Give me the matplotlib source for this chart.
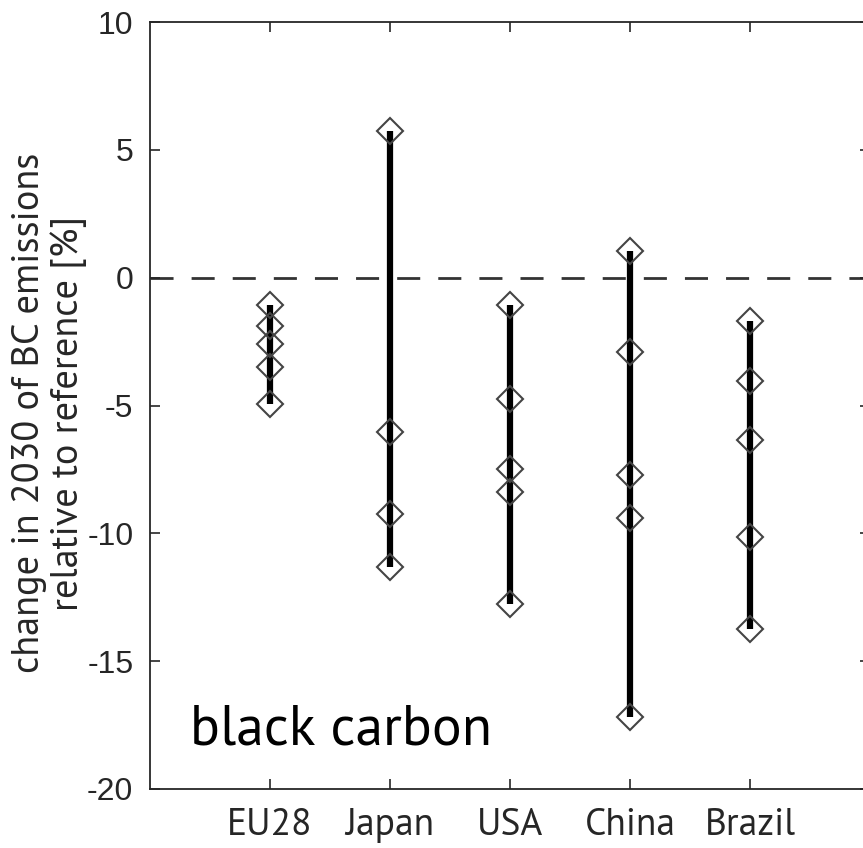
import matplotlib
matplotlib.use("Agg")
import matplotlib.pyplot as plt
import numpy as np

plt.rcParams['axes.unicode_minus'] = False

# regions and scenario results (% change in 2030 BC emissions vs reference)
regions = ['EU28', 'Japan', 'USA', 'China', 'Brazil']
eu28 = [-1.05, -1.9, -2.6, -3.5, -4.95]
japan = [5.75, -6.05, -9.25, -11.3]
usa = [-1.05, -4.75, -7.5, -8.4, -12.75]
china = [1.05, -2.9, -7.7, -9.4, -17.2]
brazil = [-1.7, -4.05, -6.35, -10.15, -13.75]
values = [eu28, japan, usa, china, brazil]

humanist = ['Source Sans Pro', 'PT Sans', 'Lato', 'DejaVu Sans']

fig = plt.figure(figsize=(8.63, 8.48), dpi=100)
ax = fig.add_axes([150 / 863, 59 / 848, 720 / 863, 767 / 848])

x = np.arange(1, len(regions) + 1)

ax.axhline(0, color='#333333', lw=2, dashes=(8.3, 6.5), zorder=1)

for xi, v in zip(x, values):
    ax.plot([xi, xi], [min(v), max(v)], color='black', lw=4.5,
            solid_capstyle='butt', zorder=2)
    ax.plot([xi] * len(v), v, ls='none', marker='D', markersize=13,
            markerfacecolor='none', markeredgecolor='#444444',
            markeredgewidth=1.5, zorder=3)

ax.set_xlim(0, 6)
ax.set_ylim(-20, 10)
ax.set_yticks([-20, -15, -10, -5, 0, 5, 10])
ax.set_xticks(x)
ax.set_xticklabels(regions, family=humanist, fontsize=27, color='#262626',
                   weight='normal')
for t in ax.get_yticklabels():
    t.set_family('Liberation Sans')
    t.set_fontsize(23)
    t.set_color('#262626')
ax.tick_params(direction='in', length=7, width=1.2, color='#262626',
               top=True, right=True)
ax.tick_params(axis='y', pad=12)
ax.tick_params(axis='x', pad=14)
for s in ax.spines.values():
    s.set_color('#262626')
    s.set_linewidth(1.3)

ax.set_ylabel('change in 2030 of BC emissions\nrelative to reference [%]',
              family=humanist, fontsize=27.5, color='#262626', weight='normal',
              linespacing=1.1)
ax.yaxis.set_label_coords(-0.088, 0.49)

ax.text(0.333, -18.25, 'black carbon', fontsize=40, family=humanist,
        weight='normal', ha='left', va='baseline')

fig.savefig('out.png', dpi=100)
